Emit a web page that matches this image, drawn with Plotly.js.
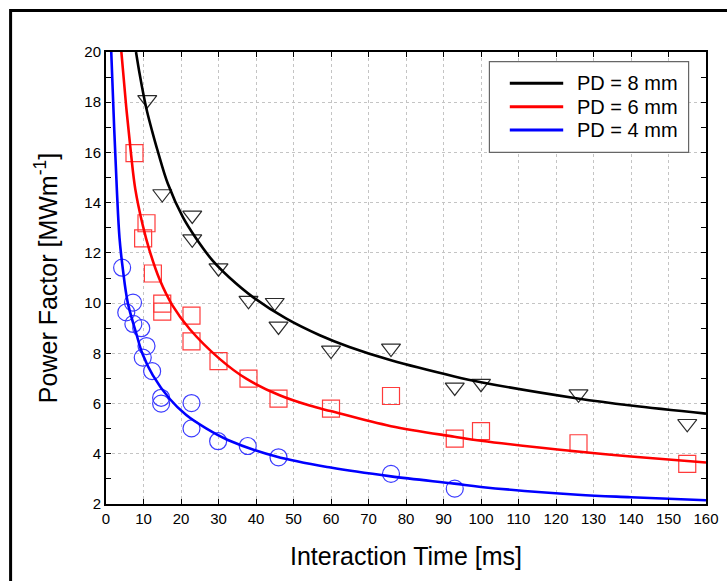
<!DOCTYPE html>
<html>
<head>
<meta charset="utf-8">
<script src="https://cdn.plot.ly/plotly-3.0.1.min.js"></script>
<style>
html,body{margin:0;padding:0;background:#fff;}
#chart{width:727px;height:581px;}
</style>
</head>
<body>
<div id="chart"></div>
<script>
// Fitted curves
const curve8X = [8, 9, 10, 11, 12.3, 13.8, 16.5, 20.5, 24, 28.5, 32.9, 39.1, 48.1, 57, 64.9, 76, 92.9, 100, 125.8, 140, 160];
const curve8Y = [20, 19.1, 18.3, 17.6, 16.85, 16.05, 14.75, 13.42, 12.58, 11.68, 11.02, 10.25, 9.38, 8.72, 8.25, 7.72, 7.08, 6.85, 6.2, 5.92, 5.6];
const curve6X = [4.1, 5.4, 6.7, 7.8, 9.8, 11.6, 14.3, 17.8, 22.3, 30.3, 37.4, 46.3, 54.3, 59.9, 76, 92.9, 100, 125.8, 140, 160];
const curve6Y = [20, 17.8, 15.9, 14.55, 13.1, 12.1, 10.94, 9.89, 8.97, 7.78, 6.99, 6.33, 5.92, 5.7, 5.1, 4.68, 4.52, 4.09, 3.89, 3.65];
const curve4X = [1.4, 2.2, 2.9, 3.6, 4.5, 5.8, 8.05, 9.8, 12.5, 16.9, 21.4, 26.7, 32.5, 45.4, 59.9, 76, 92.9, 100, 125.8, 140, 160];
const curve4Y = [20, 16.9, 14.5, 12.6, 11.34, 10.02, 8.8, 7.95, 7.12, 6.2, 5.54, 5.01, 4.55, 3.89, 3.45, 3.1, 2.81, 2.68, 2.37, 2.27, 2.15];

// Measured points
const pd8X = [11, 15, 23, 23, 30, 38, 45, 46, 60, 76, 93, 100, 126, 155];
const pd8Y = [18.1, 14.35, 13.5, 12.55, 11.4, 10.1, 10.02, 9.08, 8.12, 8.2, 6.65, 6.8, 6.38, 5.2];
const pd6X = [7.6, 10.8, 9.9, 12.5, 15, 15, 22.8, 22.8, 30, 38, 46, 60, 76, 93, 100, 126, 155];
const pd6Y = [15.97, 13.18, 12.58, 11.18, 9.98, 9.66, 9.5, 8.48, 7.69, 6.99, 6.2, 5.8, 6.3, 4.6, 4.9, 4.42, 3.6];
const pd4X = [4.3, 7.2, 5.4, 7.3, 9.4, 10.8, 9.8, 12.3, 14.7, 14.7, 22.8, 22.8, 29.9, 37.8, 46, 76, 93];
const pd4Y = [11.41, 10.02, 9.63, 9.17, 9.0, 8.29, 7.83, 7.29, 6.23, 6.0, 6.02, 5.01, 4.5, 4.31, 3.86, 3.2, 2.61];

const legendLabels = ['PD = 8 mm', 'PD = 6 mm', 'PD = 4 mm'];
const seriesColors = ['#000000', '#ff0000', '#0000ff'];
const xTicks = [0,10,20,30,40,50,60,70,80,90,100,110,120,130,140,150,160];
const yTicks = [2,4,6,8,10,12,14,16,18,20];

const FONT = 'Liberation Sans, Arial, sans-serif';

const traces = [
  {x: pd8X, y: pd8Y, mode: 'markers', type: 'scatter', name: legendLabels[0] + ' data', showlegend: false,
   marker: {symbol: 'triangle-down-open', size: 16.5, color: '#2a2a2a', line: {width: 1.2, color: '#2a2a2a'}}},
  {x: pd6X, y: pd6Y, mode: 'markers', type: 'scatter', name: legendLabels[1] + ' data', showlegend: false,
   marker: {symbol: 'square-open', size: 17, color: '#ff3b3b', line: {width: 1.2, color: '#ff3b3b'}}},
  {x: pd4X, y: pd4Y, mode: 'markers', type: 'scatter', name: legendLabels[2] + ' data', showlegend: false,
   marker: {symbol: 'circle-open', size: 17, color: '#3b3bff', line: {width: 1.2, color: '#3b3bff'}}},
  {x: curve8X, y: curve8Y, mode: 'lines', type: 'scatter', name: legendLabels[0], showlegend: false,
   line: {color: seriesColors[0], width: 2.6, shape: 'spline', smoothing: 1}},
  {x: curve6X, y: curve6Y, mode: 'lines', type: 'scatter', name: legendLabels[1], showlegend: false,
   line: {color: seriesColors[1], width: 2.6, shape: 'spline', smoothing: 1}},
  {x: curve4X, y: curve4Y, mode: 'lines', type: 'scatter', name: legendLabels[2], showlegend: false,
   line: {color: seriesColors[2], width: 2.6, shape: 'spline', smoothing: 1}}
];

const shapes = [
  {type: 'rect', xref: 'paper', yref: 'paper', x0: -0.159, x1: 1.06, y0: -0.2, y1: 1.092,
   line: {color: '#000', width: 3}, fillcolor: 'rgba(0,0,0,0)', layer: 'above'},
  {type: 'rect', xref: 'paper', yref: 'paper', x0: 0.639, x1: 0.971, y0: 0.778, y1: 0.9785,
   line: {color: '#666', width: 1.2}, fillcolor: '#ffffff', layer: 'above'}
];
const annotations = [];
const rowY = [0.9308, 0.879, 0.8274];
for (let i = 0; i < 3; i++) {
  shapes.push({type: 'line', xref: 'paper', yref: 'paper', x0: 0.673, x1: 0.762, y0: rowY[i], y1: rowY[i],
    line: {color: seriesColors[i], width: 3}, layer: 'above'});
  annotations.push({xref: 'paper', yref: 'paper', x: 0.782, y: rowY[i], xanchor: 'left', yanchor: 'middle',
    text: legendLabels[i], showarrow: false, font: {family: FONT, size: 20, color: '#000'}});
}

const layout = {
  width: 727, height: 581,
  margin: {l: 106, r: 21, t: 52, b: 77, pad: 0},
  paper_bgcolor: '#ffffff', plot_bgcolor: '#ffffff',
  showlegend: false,
  font: {family: FONT, color: '#000'},
  xaxis: {
    range: [0, 160], tickvals: xTicks, ticktext: xTicks.map(String),
    ticks: 'inside', ticklen: 5, tickwidth: 1, tickcolor: '#000',
    showline: true, linecolor: '#000', linewidth: 2, mirror: 'all',
    showgrid: true, gridcolor: '#c4c4c4', gridwidth: 1, griddash: '3px,3px',
    zeroline: false, tickfont: {family: FONT, size: 15, color: '#000'},
    title: {text: 'Interaction Time [ms]', font: {family: FONT, size: 25, color: '#000'}, standoff: 21}
  },
  yaxis: {
    range: [2, 20], tickvals: yTicks, ticktext: yTicks.map(String),
    ticks: 'inside', ticklen: 5, tickwidth: 1, tickcolor: '#000',
    minor: {dtick: 1, tick0: 0, ticks: 'inside', ticklen: 5, tickcolor: '#000', showgrid: false},
    showline: true, linecolor: '#000', linewidth: 2, mirror: 'all',
    showgrid: true, gridcolor: '#c4c4c4', gridwidth: 1, griddash: '3px,3px',
    zeroline: false, tickfont: {family: FONT, size: 15, color: '#000'},
    title: {text: 'Power Factor [MWm<sup>-1</sup>]', font: {family: FONT, size: 25, color: '#000'}, standoff: 20}
  },
  shapes: shapes,
  annotations: annotations
};

Plotly.newPlot('chart', traces, layout, {staticPlot: true, displayModeBar: false});
</script>
</body>
</html>
